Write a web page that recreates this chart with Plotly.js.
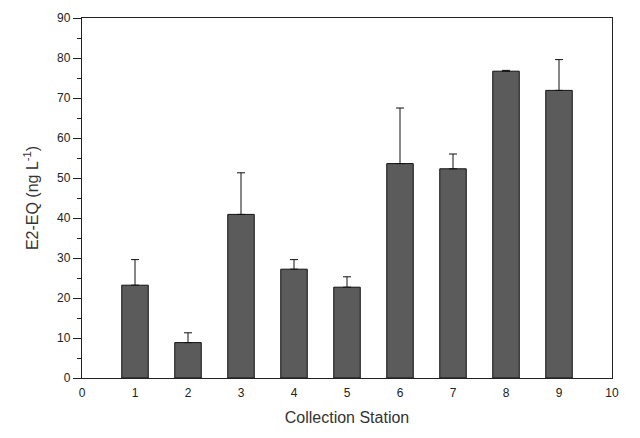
<!DOCTYPE html>
<html>
<head>
<meta charset="utf-8">
<script src="https://cdn.plot.ly/plotly-3.0.1.min.js"></script>
<style>html,body{margin:0;padding:0;background:#fff;}#chart{width:640px;height:438px;}</style>
</head>
<body>
<div id="chart"></div>
<script>
const stations = [1, 2, 3, 4, 5, 6, 7, 8, 9];
const e2eq = [23.2, 8.85, 40.9, 27.2, 22.7, 53.6, 52.3, 76.7, 71.9];
const errPlus = [6.4, 2.45, 10.4, 2.4, 2.6, 13.9, 3.7, 0.2, 7.7];
const xTicks = [0, 1, 2, 3, 4, 5, 6, 7, 8, 9, 10];

const trace = {
  type: 'bar',
  x: stations,
  y: e2eq,
  width: 0.5,
  marker: {color: '#5b5b5b', line: {color: '#111', width: 1}},
  error_y: {type: 'data', symmetric: false, array: errPlus, arrayminus: errPlus.map(() => 0),
            color: '#111', thickness: 1, width: 4},
  hoverinfo: 'x+y'
};

const layout = {
  width: 640, height: 438,
  margin: {l: 82, r: 28, t: 18, b: 60},
  paper_bgcolor: '#fff', plot_bgcolor: '#fff',
  font: {family: 'Liberation Sans, Arial, sans-serif', color: '#222', size: 12},
  showlegend: false,
  bargap: 0,
  xaxis: {
    range: [0, 10], tickmode: 'array', tickvals: xTicks, ticktext: xTicks.map(String),
    ticks: '', ticklabelstandoff: 3, showline: true, mirror: true, linecolor: '#222', linewidth: 1.2,
    showgrid: false, zeroline: false, fixedrange: true,
    tickfont: {size: 12, color: '#222'},
    title: {text: 'Collection Station', font: {size: 16, color: '#333'}, standoff: 13}
  },
  yaxis: {
    range: [0, 90], dtick: 10, ticks: 'outside', ticklen: 8, tickcolor: '#222', tickwidth: 1,
    minor: {dtick: 5, ticks: 'outside', ticklen: 4, tickcolor: '#222', showgrid: false},
    showline: true, mirror: true, linecolor: '#222', linewidth: 1.2,
    showgrid: false, zeroline: false, fixedrange: true,
    tickfont: {size: 12, color: '#222'},
    title: {text: 'E2-EQ (ng L<sup>-1</sup>)', font: {size: 16, color: '#333'}, standoff: 14}
  }
};

Plotly.newPlot('chart', [trace], layout, {displayModeBar: false, staticPlot: true});
</script>
</body>
</html>
